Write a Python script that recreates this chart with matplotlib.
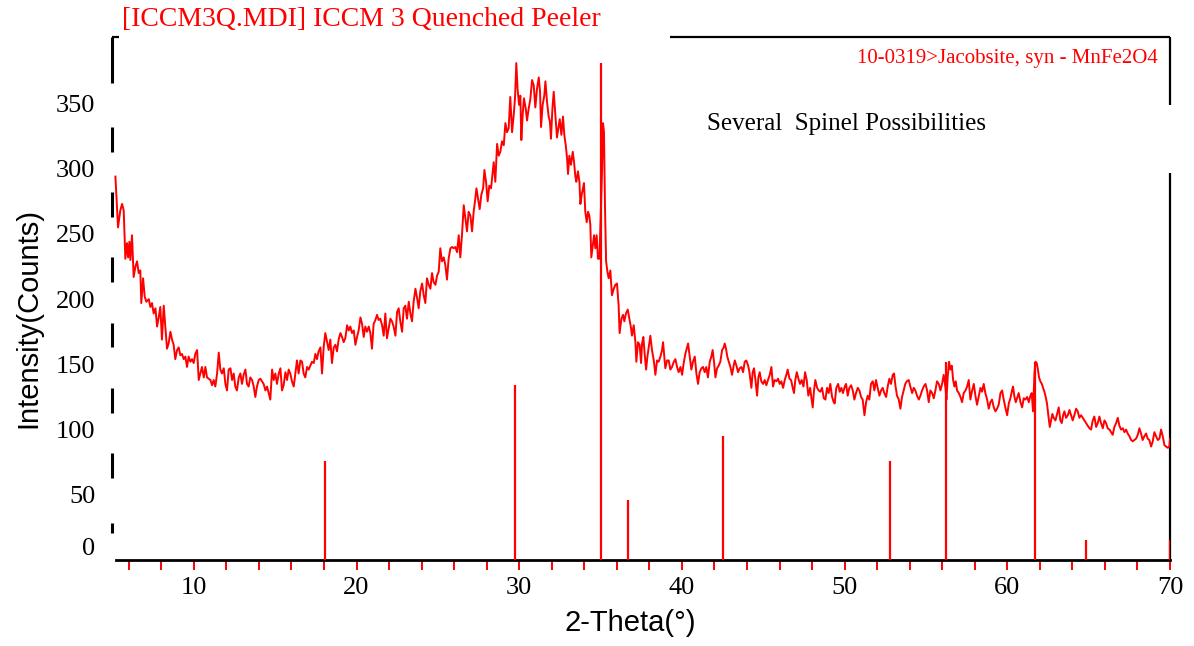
import numpy as np
import matplotlib
matplotlib.use('Agg')
import matplotlib.pyplot as plt
from matplotlib.ticker import MultipleLocator

two_theta = [
    5.18, 5.34, 5.48, 5.59, 5.69, 5.79, 5.89, 5.96, 6.04, 6.10,
    6.20, 6.30, 6.41, 6.51, 6.61, 6.71, 6.77, 6.88, 6.98, 7.08,
    7.23, 7.33, 7.43, 7.53, 7.64, 7.74, 7.84, 7.94, 8.04, 8.15,
    8.25, 8.35, 8.45, 8.56, 8.66, 8.76, 8.86, 8.97, 9.07, 9.17,
    9.27, 9.38, 9.48, 9.58, 9.68, 9.79, 9.89, 9.99, 10.09, 10.20,
    10.30, 10.40, 10.50, 10.61, 10.71, 10.81, 10.91, 11.02, 11.12, 11.22,
    11.32, 11.43, 11.53, 11.63, 11.73, 11.84, 11.94, 12.04, 12.14, 12.25,
    12.35, 12.45, 12.55, 12.65, 12.76, 12.86, 12.96, 13.06, 13.17, 13.27,
    13.37, 13.47, 13.58, 13.68, 13.78, 13.88, 13.99, 14.09, 14.19, 14.29,
    14.40, 14.50, 14.60, 14.70, 14.81, 14.91, 15.01, 15.11, 15.22, 15.32,
    15.42, 15.52, 15.63, 15.73, 15.83, 15.93, 16.03, 16.14, 16.24, 16.34,
    16.44, 16.55, 16.65, 16.75, 16.85, 16.96, 17.06, 17.16, 17.26, 17.37,
    17.47, 17.57, 17.67, 17.78, 17.88, 17.98, 18.08, 18.19, 18.29, 18.39,
    18.49, 18.60, 18.70, 18.80, 18.90, 19.01, 19.11, 19.21, 19.31, 19.42,
    19.52, 19.62, 19.72, 19.83, 19.93, 20.03, 20.13, 20.24, 20.34, 20.44,
    20.54, 20.64, 20.75, 20.85, 20.95, 21.05, 21.16,
    21.26, 21.36, 21.46, 21.57, 21.67, 21.77, 21.87, 21.98, 22.08, 22.18,
    22.28, 22.39, 22.49, 22.59, 22.69, 22.80, 22.90, 23.00, 23.10, 23.21,
    23.31, 23.41, 23.51, 23.62, 23.72, 23.82, 23.92, 24.03, 24.13, 24.23,
    24.33, 24.44, 24.54, 24.64, 24.74, 24.85, 24.95, 25.05, 25.15, 25.25,
    25.36, 25.46, 25.56, 25.66, 25.77, 25.87, 25.97, 26.07, 26.18, 26.28,
    26.38, 26.48, 26.59, 26.69, 26.79, 26.89, 27.00, 27.10, 27.20, 27.30,
    27.37, 27.47, 27.57, 27.67, 27.78, 27.86, 27.96, 28.06, 28.16, 28.27,
    28.37, 28.43, 28.53, 28.64, 28.74, 28.84, 28.94, 29.05, 29.15, 29.25,
    29.35, 29.45, 29.56, 29.66, 29.74, 29.82, 29.90, 29.99, 30.07, 30.13,
    30.21, 30.29, 30.40, 30.48, 30.58, 30.68, 30.79, 30.89, 30.99, 31.09,
    31.20, 31.28, 31.34, 31.44, 31.54, 31.61, 31.71, 31.81, 31.89, 31.95,
    32.04, 32.12, 32.22, 32.32, 32.43, 32.49, 32.59, 32.69, 32.77, 32.86,
    32.94, 33.00, 33.08, 33.18, 33.29, 33.37, 33.45, 33.51, 33.61, 33.70,
    33.76, 33.84, 33.92, 33.98, 34.06, 34.15, 34.23, 34.31, 34.37, 34.43,
    34.52, 34.60, 34.68, 34.76, 34.84, 34.93, 35.09, 35.15, 35.21, 35.27,
    35.34, 35.42, 35.50, 35.60, 35.70, 35.81, 35.91, 36.01, 36.11, 36.17,
    36.28, 36.38, 36.46, 36.56, 36.67, 36.77, 36.87, 36.93, 37.04, 37.14,
    37.20, 37.30, 37.40, 37.49,
    37.55, 37.63, 37.71, 37.80, 37.88, 37.96, 38.06, 38.16, 38.27, 38.37,
    38.47, 38.57, 38.68, 38.78, 38.84, 38.92, 38.98, 39.09, 39.19, 39.29,
    39.39, 39.50, 39.60, 39.70, 39.80, 39.91, 40.01, 40.11, 40.21, 40.32,
    40.38, 40.48, 40.58, 40.68, 40.79, 40.89, 40.99, 41.09, 41.20, 41.30,
    41.40, 41.50, 41.60, 41.71, 41.81, 41.89, 41.98, 42.06, 42.16, 42.26,
    42.36, 42.47, 42.57, 42.63, 42.71, 42.79, 42.88, 42.98, 43.08, 43.18,
    43.25, 43.35, 43.45, 43.55, 43.66, 43.76, 43.86, 43.96, 44.07, 44.15,
    44.27, 44.35, 44.43, 44.52, 44.62, 44.70, 44.78, 44.88, 44.99, 45.09,
    45.19, 45.29, 45.40, 45.50, 45.60, 45.70, 45.81, 45.91, 46.01, 46.11,
    46.22, 46.32, 46.42, 46.50, 46.61, 46.71, 46.81, 46.89, 46.97, 47.06,
    47.16, 47.26, 47.36, 47.47, 47.57, 47.67, 47.77, 47.88, 47.96, 48.04,
    48.12, 48.20, 48.31, 48.41, 48.51, 48.61, 48.72, 48.82, 48.92, 49.02,
    49.12, 49.23, 49.33, 49.39, 49.49, 49.60, 49.70, 49.80, 49.90, 50.01,
    50.09, 50.19, 50.29, 50.40, 50.50, 50.60, 50.70, 50.81, 50.91, 51.01,
    51.11, 51.22, 51.32, 51.42, 51.52, 51.62, 51.73, 51.83, 51.93, 52.03,
    52.14, 52.24, 52.34, 52.44, 52.55, 52.65, 52.75, 52.85, 52.96, 53.04,
    53.12, 53.22, 53.33, 53.43, 53.53, 53.63, 53.73, 53.82,
    53.94, 54.04, 54.15, 54.25, 54.35, 54.45, 54.56, 54.66, 54.76, 54.86,
    54.97, 55.07, 55.17, 55.27, 55.38, 55.48, 55.58, 55.68, 55.79, 55.89,
    55.99, 56.09, 56.20, 56.26, 56.34, 56.42, 56.50, 56.59, 56.67, 56.75,
    56.83, 56.91, 57.02, 57.12, 57.22, 57.32, 57.43, 57.53, 57.63, 57.73,
    57.84, 57.94, 58.04, 58.14, 58.24, 58.35, 58.45, 58.55, 58.65, 58.76,
    58.86, 58.96, 59.06, 59.17, 59.27, 59.37, 59.47, 59.58, 59.68, 59.78,
    59.88, 59.99, 60.09, 60.19, 60.29, 60.35, 60.44, 60.52, 60.60, 60.70,
    60.81, 60.91, 61.01, 61.11, 61.22, 61.32, 61.42, 61.50, 61.58, 61.67,
    61.73, 61.81, 61.87, 61.95, 62.03, 62.12, 62.20, 62.28, 62.36, 62.44,
    62.53, 62.61, 62.69, 62.77, 62.85, 62.96, 63.06, 63.16, 63.26, 63.35,
    63.43, 63.51, 63.61, 63.72, 63.82, 63.92, 64.02, 64.12, 64.23, 64.33,
    64.43, 64.53, 64.64, 64.74, 64.84, 64.94, 65.05, 65.15, 65.25, 65.35,
    65.46, 65.56, 65.66, 65.76, 65.87, 65.97, 66.07, 66.17, 66.28, 66.38,
    66.48, 66.58, 66.69, 66.79, 66.89, 66.99, 67.10, 67.20, 67.30, 67.40,
    67.50, 67.61, 67.71, 67.81, 67.91, 68.02, 68.12, 68.22, 68.32, 68.43,
    68.53, 68.63, 68.73, 68.84, 68.94, 69.04, 69.14, 69.25, 69.35, 69.45,
    69.55, 69.66, 69.76, 69.86, 69.96, 70.00]

counts = [
    294, 255, 268, 273, 268, 231, 243, 232, 244, 230,
    249, 217, 225, 229, 220, 222, 197, 216, 202, 198,
    200, 194, 197, 189, 193, 179, 186, 194, 169, 195,
    179, 162, 166, 175, 169, 165, 154, 161, 163, 157,
    158, 154, 156, 148, 156, 152, 154, 151, 158, 161,
    138, 143, 148, 140, 148, 140, 139, 138, 134, 138,
    133, 143, 159, 146, 143, 147, 135, 130, 146, 147,
    138, 143, 133, 130, 140, 143, 135, 142, 146, 135,
    133, 140, 138, 133, 125, 133, 138, 139, 137, 135,
    130, 133, 128, 123, 146, 138, 143, 135, 143, 147,
    130, 134, 144, 138, 146, 143, 137, 133, 143, 153,
    143, 153, 152, 143, 140, 148, 146, 149, 152, 151,
    158, 154, 160, 163, 143, 163, 174, 167, 161, 169,
    151, 163, 165, 160, 169, 174, 171, 167, 170, 180,
    176, 179, 174, 176, 165, 171, 176, 186, 181, 171,
    179, 175, 179, 174, 162, 181, 184,
    188, 184, 185, 180, 172, 189, 170, 178, 185, 183,
    179, 172, 190, 193, 183, 175, 193, 195, 185, 198,
    189, 183, 198, 208, 201, 193, 206, 212, 203, 197,
    216, 211, 208, 220, 213, 211, 218, 221, 239, 229,
    232, 226, 215, 231, 239, 240, 239, 240, 236, 249,
    232, 249, 272, 262, 252, 267, 264, 252, 267, 277,
    285, 277, 269, 280, 285, 299, 290, 275, 287, 285,
    298, 305, 290, 319, 310, 313, 321, 318, 335, 328,
    331, 355, 328, 341, 354, 381, 361, 349, 356, 322,
    341, 354, 346, 337, 346, 353, 368, 364, 347, 361,
    370, 359, 332, 349, 356, 367, 351, 340, 336, 323,
    346, 359, 341, 324, 333, 338, 326, 340, 326, 318,
    308, 296, 310, 303, 313, 305, 294, 290, 298, 290,
    273, 280, 285, 289, 267, 259, 267, 264, 257, 232,
    241, 249, 239, 249, 231, 231, 298, 335, 328, 272,
    229, 221, 216, 222, 203, 208, 211, 212, 195, 174,
    185, 188, 183, 189, 192, 185, 178, 172, 180, 167,
    152, 167, 165, 151,
    166, 171, 158, 146, 156, 163, 172, 161, 153, 142,
    153, 152, 156, 161, 167, 156, 147, 153, 153, 146,
    148, 152, 154, 148, 144, 148, 142, 151, 158, 163,
    166, 156, 146, 152, 156, 143, 135, 144, 147, 148,
    144, 148, 140, 152, 156, 161, 151, 140, 147, 149,
    152, 161, 163, 166, 162, 156, 152, 148, 142, 149,
    153, 149, 144, 147, 148, 144, 152, 153, 149, 144,
    132, 144, 147, 138, 126, 140, 144, 137, 135, 138,
    134, 138, 142, 148, 133, 138, 137, 139, 135, 137,
    132, 138, 142, 146, 139, 138, 132, 128, 138, 144,
    139, 135, 138, 133, 144, 138, 126, 132, 124, 117,
    130, 138, 132, 130, 129, 132, 124, 123, 132, 128,
    135, 125, 121, 120, 132, 135, 129, 132, 128, 133,
    135, 126, 132, 134, 130, 123, 128, 132, 130, 125,
    123, 111, 121, 126, 123, 135, 137, 130, 138, 132,
    126, 130, 132, 128, 125, 133, 139, 135, 142, 143,
    134, 126, 123, 116, 125, 130, 135, 137,
    138, 133, 128, 132, 130, 126, 123, 126, 130, 133,
    135, 130, 121, 130, 128, 124, 130, 137, 135, 130,
    135, 142, 132, 123, 141, 152, 146, 149, 138, 133,
    137, 130, 128, 125, 121, 128, 130, 133, 138, 123,
    130, 135, 126, 119, 125, 132, 129, 135, 128, 123,
    116, 121, 123, 117, 114, 116, 119, 128, 130, 123,
    117, 111, 120, 124, 130, 133, 125, 121, 124, 128,
    121, 117, 124, 123, 125, 121, 126, 128, 114, 143,
    152, 151, 147, 140, 137, 135, 132, 129, 125, 120,
    110, 102, 107, 112, 109, 107, 112, 117, 107, 105,
    111, 114, 109, 111, 115, 111, 107, 111, 116, 114,
    109, 111, 109, 107, 105, 103, 101, 100, 107, 110,
    102, 105, 110, 105, 101, 107, 105, 101, 100, 98,
    96, 102, 105, 109, 103, 100, 101, 98, 100, 97,
    95, 92, 91, 92, 93, 96, 101, 97, 92, 95,
    97, 93, 92, 87, 91, 98, 95, 92, 93, 100,
    95, 88, 87, 86, 87, 93]

# reference pattern 10-0319 Jacobsite (stick positions / heights scaled to the scan)
stick_pos = [18.07, 29.72, 35.0, 36.69, 42.5, 52.78, 56.22, 61.7, 64.85, 70.0]
stick_int = [76, 134, 381, 46, 95, 76, 152, 152, 15, 15]

x_ticks = [10, 20, 30, 40, 50, 60, 70]
y_ticks = [0, 50, 100, 150, 200, 250, 300, 350]

RED = '#ff0000'
SERIF = 'Liberation Serif'
SANS = 'Liberation Sans'

fig = plt.figure(figsize=(11.94, 6.46), dpi=100)
W, H = 1194, 646
ax = fig.add_axes([112 / W, 1 - 560 / H, (1170 - 112) / W, (560 - 37) / H])
ax.set_xlim(4.97, 70.0)
ax.set_ylim(0, 401)

ax.plot(two_theta, counts, color=RED, linewidth=1.4, zorder=3)
ax.vlines(stick_pos, 0, stick_int, color=RED, linewidth=1.6, zorder=4)

# frame: only bits of it are drawn in the original
for s in ['top', 'right', 'left']:
    ax.spines[s].set_visible(False)
ax.spines['bottom'].set_bounds(5.2, 70)
ax.spines['bottom'].set_linewidth(2)

ytr = ax.get_yaxis_transform()
xtr = ax.get_xaxis_transform()
left_bits = [(21, 28)] + [(50 * k + 13, 50 * k + 32) for k in range(1, 7)] + [(366, 401)]
for lo, hi in left_bits:
    ax.plot([0, 0], [lo, hi], color='black', linewidth=2.2, transform=ytr, clip_on=False,
            solid_capstyle='butt')
for lo, hi in [(0, 297), (349, 401)]:
    ax.plot([1, 1], [lo, hi], color='black', linewidth=1.6, transform=ytr, clip_on=False,
            solid_capstyle='butt')
for lo, hi in [(4.97, 5.4), (39.27, 70.0)]:
    ax.plot([lo, hi], [1, 1], color='black', linewidth=1.6, transform=xtr, clip_on=False,
            solid_capstyle='butt')

ax.set_xticks(x_ticks)
ax.xaxis.set_minor_locator(MultipleLocator(2))
ax.tick_params(axis='x', which='both', direction='out', length=7, width=1.4,
               color=RED, labelcolor='black', pad=5, labelsize=19)
ax.set_yticks(y_ticks)
ax.tick_params(axis='y', length=0, pad=12, labelsize=19)
for lab in ax.get_xticklabels() + ax.get_yticklabels():
    lab.set_family(SERIF)
ax.yaxis.get_major_ticks()[0].label1.set_verticalalignment('bottom')

ax.set_xlabel('2-Theta(°)', family=SANS, fontsize=21)
ax.xaxis.set_label_coords(0.49, -0.093)
ax.xaxis.label.set_verticalalignment('top')
ax.set_ylabel('Intensity(Counts)', family=SANS, fontsize=21)
ax.yaxis.set_label_coords(-0.066, 0.463)

fig.text(122 / W, 1 - 19 / H, '[ICCM3Q.MDI] ICCM 3 Quenched Peeler', color=RED,
         family=SERIF, fontsize=20, ha='left', va='center')
fig.text(1158 / W, 1 - 59 / H, '10-0319>Jacobsite, syn - MnFe2O4', color=RED,
         family=SERIF, fontsize=15, ha='right', va='center')
fig.text(707 / W, 1 - 124 / H, 'Several  Spinel Possibilities', color='black',
         family=SERIF, fontsize=18, ha='left', va='center')

fig.savefig('out.png', dpi=100)
